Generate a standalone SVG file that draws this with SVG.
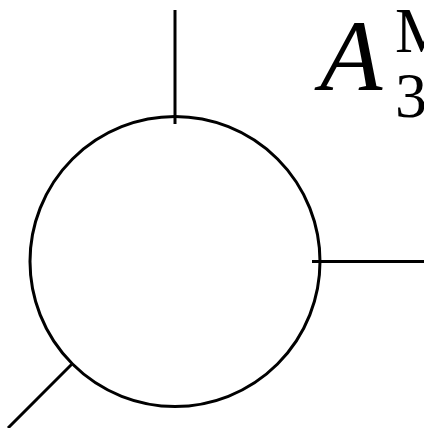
<svg xmlns="http://www.w3.org/2000/svg" width="424" height="428" viewBox="0 0 424 428">
<style>
.ln{stroke:#000;stroke-width:3;fill:none}
.t{font-family:"Liberation Serif","DejaVu Serif",serif;fill:#000}
</style>
<rect width="424" height="428" fill="#fff"/>
<g id="connectors">
<line class="ln" x1="175" y1="10" x2="175" y2="124"/>
<line class="ln" x1="312" y1="261.5" x2="424" y2="261.5"/>
<line class="ln" x1="71.5" y1="364.5" x2="8" y2="428"/>
</g>
<g id="vertex">
<circle class="ln" cx="175" cy="261.5" r="145"/>
</g>
<g id="label">
<text class="t" x="320" y="90" font-size="102" font-style="italic">A</text>
<text class="t" x="395" y="52" font-size="64">M</text>
<text class="t" x="395" y="117" font-size="64">3</text>
</g>
</svg>
